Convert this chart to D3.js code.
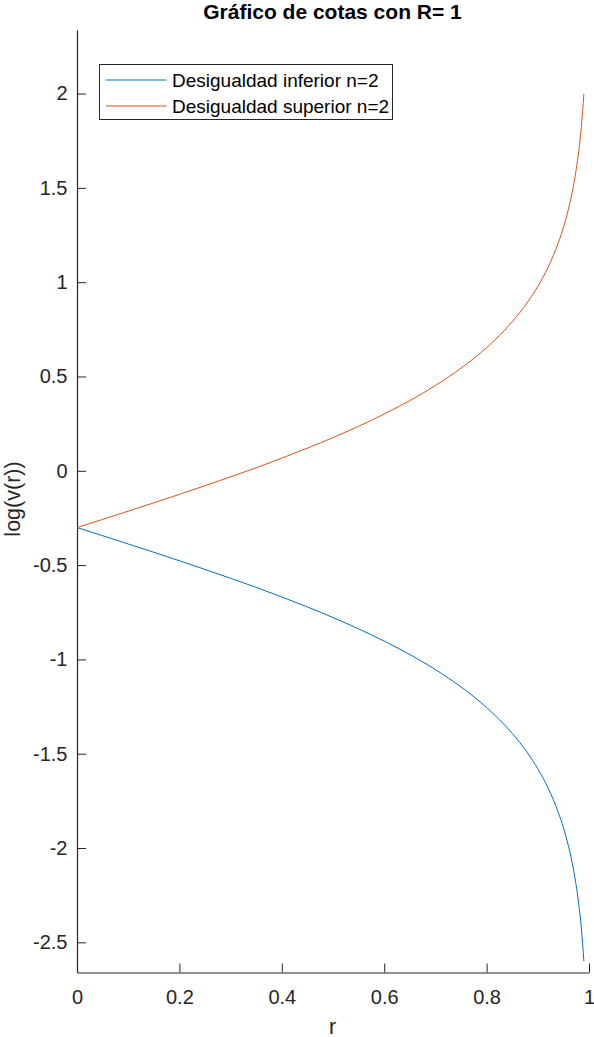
<!DOCTYPE html>
<html>
<head>
<meta charset="utf-8">
<script src="https://cdn.jsdelivr.net/npm/d3@7"></script>
<style>
  body { margin: 0; background: #fff; }
  svg { display: block; font-family: "Liberation Sans", Arial, sans-serif; }
  .axis path, .axis line { stroke: #262626; }
</style>
</head>
<body>
<div id="chart"></div>
<script>
var width = 594, height = 1037;
var margin = {top: 30, right: 5, bottom: 65, left: 77};

// r values and the two bounds
var r_vals = [0, 0.05, 0.1, 0.15, 0.2, 0.25, 0.3, 0.35, 0.4, 0.45, 0.5, 0.55, 0.6, 0.65, 0.7,
  0.75, 0.8, 0.85, 0.88, 0.9, 0.92, 0.94, 0.95, 0.96, 0.97, 0.975, 0.98, 0.985, 0.99];
var lower_vals = [-0.301, -0.344, -0.388, -0.432, -0.477, -0.523, -0.570, -0.618, -0.669, -0.722,
  -0.778, -0.838, -0.903, -0.974, -1.054, -1.146, -1.255, -1.392, -1.496, -1.580, -1.681,
  -1.811, -1.892, -1.991, -2.118, -2.199, -2.297, -2.423, -2.600];
var upper_vals = [-0.301, -0.258, -0.214, -0.170, -0.125, -0.079, -0.032, 0.016, 0.067, 0.120,
  0.176, 0.236, 0.301, 0.372, 0.452, 0.544, 0.653, 0.790, 0.894, 0.978, 1.079,
  1.209, 1.290, 1.389, 1.516, 1.597, 1.695, 1.821, 1.998];

var series_names = ["Desigualdad inferior n=2", "Desigualdad superior n=2"];
var series_colors = ["#0072BD", "#D95319"];
var x_ticks = [0, 0.2, 0.4, 0.6, 0.8, 1];
var y_ticks = [-2.5, -2, -1.5, -1, -0.5, 0, 0.5, 1, 1.5, 2];

var svg = d3.select("#chart").append("svg")
    .attr("width", width)
    .attr("height", height);

var x = d3.scaleLinear()
    .domain([0, 1])
    .range([margin.left, width - margin.right]);

var y = d3.scaleLinear()
    .domain([-2.66, 2.337])
    .range([height - margin.bottom + 0.5, margin.top]);

var fmt = function(d){ return String(d); };

svg.append("g")
    .attr("class", "axis x")
    .attr("transform", "translate(0," + (height - margin.bottom + 0.5) + ")")
    .call(d3.axisBottom(x).tickValues(x_ticks).tickFormat(fmt).tickSizeInner(-9).tickSizeOuter(0).tickPadding(17));

svg.append("g")
    .attr("class", "axis y")
    .attr("transform", "translate(" + margin.left + ",0)")
    .call(d3.axisLeft(y).tickValues(y_ticks).tickFormat(fmt).tickSizeInner(-9).tickSizeOuter(0).tickPadding(9.5));

svg.selectAll(".axis path").attr("stroke-width", 1.2);
svg.selectAll(".axis text")
    .attr("fill", "#262626")
    .style("font-size", "20px");

var line = d3.line()
    .x(function(d){ return x(d[0]); })
    .y(function(d){ return y(d[1]); })
    .curve(d3.curveMonotoneX);

[lower_vals, upper_vals].forEach(function(vals, i){
  svg.append("path")
      .datum(r_vals.map(function(r, j){ return [r, vals[j]]; }))
      .attr("d", line)
      .attr("fill", "none")
      .attr("stroke", series_colors[i])
      .attr("stroke-width", 1);
});

// title and labels
svg.append("text")
    .attr("x", 332.5)
    .attr("y", 19)
    .attr("text-anchor", "middle")
    .style("font-size", "21px")
    .style("font-weight", "bold")
    .text("Gráfico de cotas con R= 1");

svg.append("text")
    .attr("x", 332.5)
    .attr("y", 1033.5)
    .attr("text-anchor", "middle")
    .attr("fill", "#262626")
    .style("font-size", "21.5px")
    .text("r");

svg.append("text")
    .attr("transform", "translate(19.5,499) rotate(-90)")
    .attr("text-anchor", "middle")
    .attr("fill", "#262626")
    .style("font-size", "21.5px")
    .text("log(v(r))");

// legend
var legend = svg.append("g")
    .attr("transform", "translate(99.5,64.5)");

legend.append("rect")
    .attr("width", 293)
    .attr("height", 55)
    .attr("fill", "#fff")
    .attr("stroke", "#262626")
    .attr("stroke-width", 1);

series_names.forEach(function(name, i){
  var ly = 15.5 + i * 26;
  legend.append("line")
      .attr("x1", 6.5).attr("x2", 67)
      .attr("y1", ly).attr("y2", ly)
      .attr("stroke", series_colors[i]);
  legend.append("text")
      .attr("x", 72.5)
      .attr("y", ly + 7)
      .attr("fill", "#000")
      .style("font-size", "19px")
      .text(name);
});
</script>
</body>
</html>
